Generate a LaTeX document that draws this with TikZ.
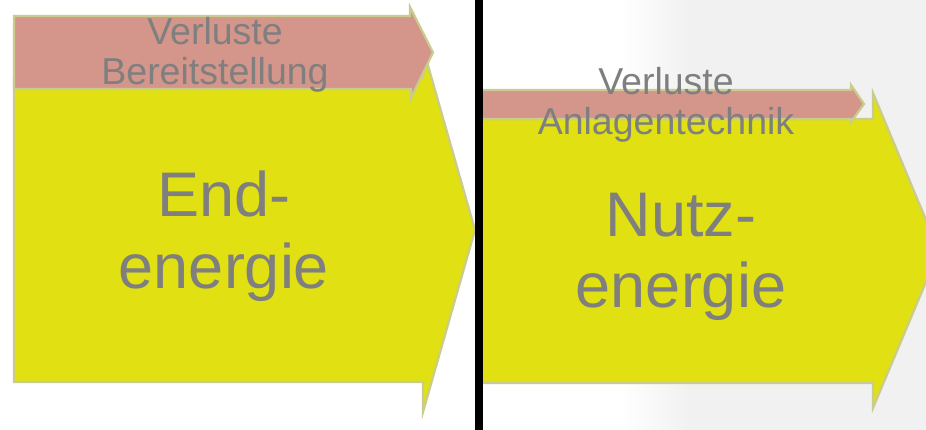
\documentclass[tikz,border=0pt]{standalone}
\usepackage{fontspec}
\setmainfont{Liberation Sans}
\usetikzlibrary{positioning}
\definecolor{yel}{RGB}{224,224,18}
\definecolor{rd}{RGB}{212,149,138}
\definecolor{edgec}{RGB}{201,204,142}
\definecolor{txt}{RGB}{127,127,127}
\definecolor{bgg}{RGB}{241,241,241}
\tikzset{
  yarrow/.style={fill=yel,draw=edgec,line width=2.2pt,line join=miter},
  rarrow/.style={fill=rd,draw=edgec,line width=2.2pt,line join=miter},
  smalltxt/.style={text=txt,align=center,anchor=base,inner sep=0pt,font=\fontsize{37.5}{40}\selectfont},
  bigtxt/.style={text=txt,align=center,anchor=base,inner sep=0pt,font=\fontsize{63}{71}\selectfont}
}
\begin{document}
\begin{tikzpicture}[x=1pt,y=-1pt]
\useasboundingbox (0,0) rectangle (926,430);
\begin{scope}
\clip (0,0) rectangle (926,430);
% background of right panel
\fill[white] (0,0) rectangle (926,430);
\shade[left color=white,right color=bgg] (620,0) rectangle (690,430);
\fill[bgg] (689.5,0) rectangle (926,430);
% left arrows
\draw[yarrow] (14,78) -- (423,78) -- (423,48) -- (475,230) -- (423,412) -- (423,382) -- (14,382) -- cycle;
\draw[rarrow] (14,16) -- (410,16) -- (410,7) -- (433,52.5) -- (411,98) -- (411,89) -- (14,89) -- cycle;
% right arrows
\draw[yarrow] (479,119) -- (873,119) -- (873,93) -- (939,251) -- (873,408) -- (873,383) -- (479,383) -- cycle;
\draw[rarrow] (479,90) -- (851,90) -- (851,85) -- (864,104) -- (851,122) -- (851,119) -- (479,119) -- cycle;
% divider
\fill[black] (475,0) rectangle (483,430);
\end{scope}
% texts (base anchor = baseline of last line)
\node[smalltxt] (vb) at (215,85) {Verluste\\Bereitstellung};
\node[smalltxt] (va) at (666,135) {Verluste\\Anlagentechnik};
\node[bigtxt] (end) at (224,288) {End-\\energie};
\node[bigtxt] (nutz) at (681,308) {Nutz-\\energie};
\end{tikzpicture}
\end{document}
